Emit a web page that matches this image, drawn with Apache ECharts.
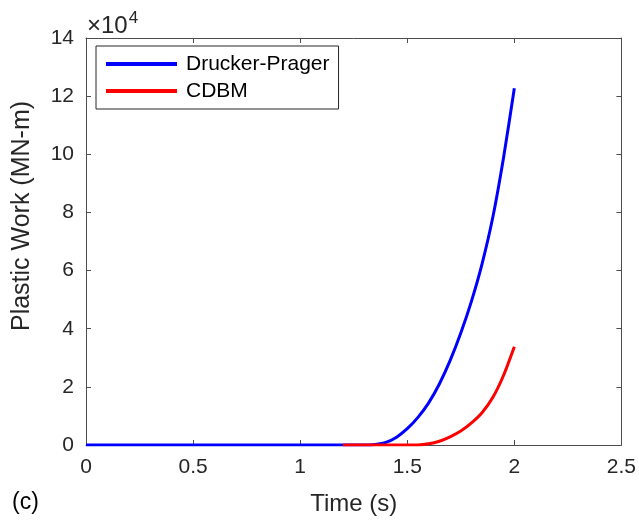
<!DOCTYPE html>
<html>
<head>
<meta charset="utf-8">
<script src="https://cdn.jsdelivr.net/npm/echarts@6/dist/echarts.min.js"></script>
<style>
  html, body {margin:0; padding:0; background:#fff;}
  #main {width:639px; height:523px;}
</style>
</head>
<body>
<div id="main"></div>
<script>
// values, plastic work in units of 1e4 MN-m
let dp_time = [0, 1.30, 1.35, 1.40, 1.45, 1.50, 1.55, 1.60, 1.65, 1.70, 1.75, 1.80, 1.85, 1.90, 1.95, 2.00];
let dp_work = [0, 0, 0.02, 0.09, 0.27, 0.56, 0.95, 1.45, 2.10, 2.90, 3.85, 4.95, 6.25, 7.85, 9.90, 12.27];
let cdbm_time = [1.20, 1.55, 1.60, 1.65, 1.70, 1.75, 1.80, 1.85, 1.90, 1.95, 2.00];
let cdbm_work = [0, 0, 0.04, 0.13, 0.28, 0.48, 0.76, 1.12, 1.64, 2.40, 3.38];
let series_names = ['Drucker-Prager', 'CDBM'];

function pairs(t, w) {
    return t.map(function (v, i) { return [v, w[i]]; });
}

function draw_chart() {
    let font = 'Liberation Sans, Arial, Helvetica, sans-serif';
    let axis_col = '#4d4d4d';
    let text_col = '#262626';
    let box = echarts.init(document.getElementById('main'));

    let tick = {show: true, inside: true, length: 5, lineStyle: {color: axis_col}};
    let line = {show: true, onZero: false, lineStyle: {color: axis_col, width: 1}};

    let option = {
        animation: false,
        grid: {left: 86, right: 17, top: 38, bottom: 78},
        legend: {
            orient: 'vertical',
            left: 96, top: 46,
            data: series_names,
            icon: 'rect',
            itemWidth: 71, itemHeight: 4, itemGap: 3,
            itemStyle: {borderWidth: 0},
            padding: [6, 9, 6, 10],
            borderColor: text_col, borderWidth: 1,
            textStyle: {color: '#000', fontSize: 21, fontFamily: font, lineHeight: 24, padding: [0, 0, 0, 4]}
        },
        xAxis: [
            {
                type: 'value', min: 0, max: 2.5, interval: 0.5,
                name: 'Time (s)', nameLocation: 'middle', nameGap: 47,
                nameTextStyle: {color: text_col, fontSize: 24, fontFamily: font},
                axisLine: line, axisTick: tick,
                axisLabel: {color: text_col, fontSize: 21, fontFamily: font, margin: 12},
                splitLine: {show: false}
            },
            {
                type: 'value', min: 0, max: 2.5, interval: 0.5, position: 'top',
                axisLine: line, axisTick: tick,
                axisLabel: {show: false}, splitLine: {show: false}
            }
        ],
        yAxis: [
            {
                type: 'value', min: 0, max: 14, interval: 2,
                axisLine: line, axisTick: tick,
                axisLabel: {color: text_col, fontSize: 21, fontFamily: font, margin: 12},
                splitLine: {show: false}
            },
            {
                type: 'value', min: 0, max: 14, interval: 2, position: 'right',
                axisLine: line, axisTick: tick,
                axisLabel: {show: false}, splitLine: {show: false}
            }
        ],
        graphic: [
            {
                type: 'text', x: 87, y: 26,
                style: {
                    text: '×10{sup|4}', fill: text_col, font: '24px ' + font,
                    verticalAlign: 'middle',
                    rich: {sup: {fontSize: 17, fontFamily: font, fill: text_col, verticalAlign: 'bottom', padding: [0, 0, 16, 1]}}
                }
            },
            {
                type: 'text', x: 22, y: 216, rotation: Math.PI / 2,
                style: {text: 'Plastic Work (MN-m)', fill: text_col, font: '25px ' + font, align: 'center', verticalAlign: 'middle'}
            },
            {
                type: 'text', x: 12, y: 503,
                style: {text: '(c)', fill: '#000', font: '23px ' + font, verticalAlign: 'middle'}
            }
        ],
        series: [
            {
                name: series_names[0], type: 'line',
                data: pairs(dp_time, dp_work),
                smooth: 0.25, symbol: 'none',
                color: '#0000ff',
                lineStyle: {width: 3, color: '#0000ff'}
            },
            {
                name: series_names[1], type: 'line',
                data: pairs(cdbm_time, cdbm_work),
                smooth: 0.25, symbol: 'none',
                color: '#ff0000',
                lineStyle: {width: 3, color: '#ff0000'}
            }
        ]
    };
    box.setOption(option);
}

draw_chart();
</script>
</body>
</html>
